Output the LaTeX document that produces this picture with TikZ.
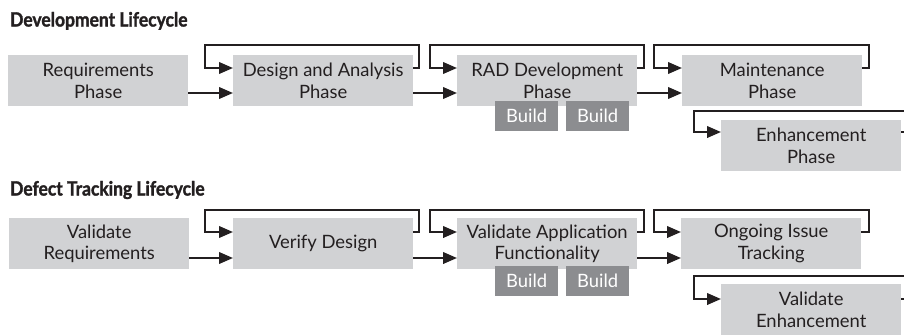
\documentclass[tikz,border=0pt]{standalone}
\usepackage{fontspec}
\setmainfont{Lato}
\newfontfamily\titlefont{Lato}[UprightFont=* Bold, FakeStretch=0.89, FakeBold=1.6]
\usetikzlibrary{arrows.meta}
\definecolor{boxgray}{HTML}{D1D2D4}
\definecolor{buildgray}{HTML}{8C8D90}
\definecolor{ink}{HTML}{231F20}
\tikzset{
  box/.style={fill=boxgray, minimum width=180pt, minimum height=51pt, inner sep=0pt,
    align=center, anchor=north west, text=ink, font=\fontsize{18.4}{21.5}\selectfont},
  buildbox/.style={fill=buildgray, minimum width=63pt, minimum height=30pt, inner sep=0pt,
    anchor=north west, text=white, font=\fontsize{18.4}{21.5}\selectfont},
  title/.style={anchor=base west, inner sep=0pt, text=ink, font=\titlefont\fontsize{19.6}{22}\selectfont},
  arr/.style={draw=ink, line width=2.2pt, -{Triangle[length=14pt,width=11.5pt]}},
}
\begin{document}
\begin{tikzpicture}[x=1pt,y=-1pt]
\useasboundingbox (0,0) rectangle (904,335);
\clip (0,0) rectangle (904,335);
\fill[white] (0,0) rectangle (904,335);

% ---------- Development Lifecycle ----------
\node[title] (t1) at (10,26.5) {Development Lifecycle};
\node[box] (a1) at (8,55) {Requirements\\Phase};
\node[box] (a2) at (233,55) {Design and Analysis\\Phase};
\node[box] (a3) at (457,55) {RAD Development\\Phase};
\node[box] (a4) at (682,55) {Maintenance\\Phase};
\node[box] (a5) at (721,120) {Enhancement\\Phase};
\node[buildbox] (ab1) at (495,101) {Build};
\node[buildbox] (ab2) at (566,101) {Build};

\draw[arr] ([yshift=-38pt]a1.north east) -- ([yshift=-38pt]a2.north west);
\draw[arr] ([yshift=-38pt]a2.north east) -- ([yshift=-38pt]a3.north west);
\draw[arr] ([yshift=-38pt]a3.north east) -- ([yshift=-38pt]a4.north west);

\draw[arr] ([yshift=-13pt]a2.north east) -| (419,45) -| (205,68) -- ([yshift=-13pt]a2.north west);
\draw[arr] ([yshift=-13pt]a3.north east) -| (644,45) -| (430,68) -- ([yshift=-13pt]a3.north west);
\draw[arr] ([yshift=-13pt]a4.north east) -| (869,45) -| (654,68) -- ([yshift=-13pt]a4.north west);
\draw[arr] ([yshift=-12pt]a5.north east) -| (910,111) -| (694,132) -- ([yshift=-12pt]a5.north west);

% ---------- Defect Tracking Lifecycle ----------
\node[title] (t2) at (10,195.5) {Defect Tracking Lifecycle};
\node[box] (b1) at (9,218) {Validate\\Requirements};
\node[box] (b2) at (233,218) {Verify Design};
\node[box] (b3) at (457,218) {Validate Application\\Functionality};
\node[box] (b4) at (681,218) {Ongoing Issue\\Tracking};
\node[box] (b5) at (721,284) {Validate\\Enhancement};
\node[buildbox] (bb1) at (495,266) {Build};
\node[buildbox] (bb2) at (566,266) {Build};

\draw[arr] ([yshift=-40pt]b1.north east) -- ([yshift=-40pt]b2.north west);
\draw[arr] ([yshift=-40pt]b2.north east) -- ([yshift=-40pt]b3.north west);
\draw[arr] ([yshift=-40pt]b3.north east) -- ([yshift=-40pt]b4.north west);

\draw[arr] ([yshift=-14pt]b2.north east) -| (419,210) -| (205,232) -- ([yshift=-14pt]b2.north west);
\draw[arr] ([yshift=-14pt]b3.north east) -| (644,210) -| (430,232) -- ([yshift=-14pt]b3.north west);
\draw[arr] ([yshift=-14pt]b4.north east) -| (869,210) -| (654,232) -- ([yshift=-14pt]b4.north west);
\draw[arr] ([yshift=-15pt]b5.north east) -| (910,276) -| (694,299) -- ([yshift=-15pt]b5.north west);
\end{tikzpicture}
\end{document}
